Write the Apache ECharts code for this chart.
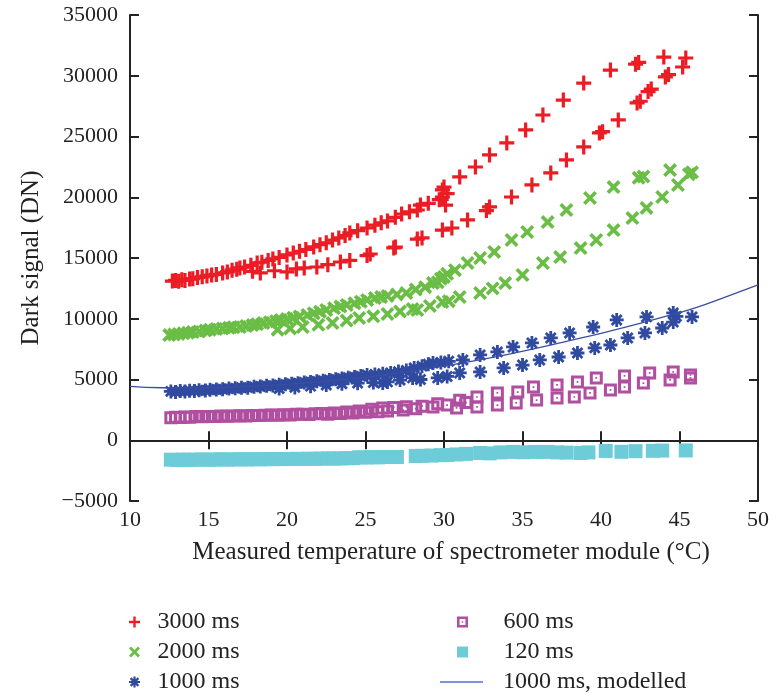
<!DOCTYPE html>
<html>
<head>
<meta charset="utf-8">
<script src="https://cdn.jsdelivr.net/npm/echarts@6/dist/echarts.min.js"></script>
<style>
  html, body { margin: 0; padding: 0; background: #fff; }
  #chart { width: 779px; height: 693px; }
</style>
</head>
<body>
<div id="chart"></div>
<script>
// axis ticks
const xTicks = [10, 15, 20, 25, 30, 35, 40, 45, 50];
const yTicks = [-5000, 0, 5000, 10000, 15000, 20000, 25000, 30000, 35000];

// [temperature °C, dark signal DN]
const s3000 = [
  [12.7,13100],[12.9,13150],[13.1,13080],[13.3,13200],[13.5,13150],[13.8,13270],[14.0,13300],[14.3,13400],
  [14.6,13450],[14.9,13520],[15.2,13600],[15.5,13650],[15.9,13770],[16.2,13850],[16.5,14000],[16.8,14080],
  [17.0,14180],[17.3,14250],[17.7,14400],[18.1,14590],[18.4,14650],[18.8,14800],[19.1,14920],[19.5,15050],
  [20.0,15250],[20.4,15410],[20.8,15550],[21.2,15700],[21.7,15910],[22.1,16100],[22.5,16250],[22.9,16480],
  [23.3,16650],[23.7,16850],[24.0,17060],[24.5,17250],[25.1,17470],[25.6,17700],[26.0,17900],[26.4,18050],
  [26.9,18350],[27.3,18620],[27.8,18800],[28.3,18950],[28.5,19360],[29.0,19500],[29.7,19800],[29.9,20020],
  [29.9,20600],[30.0,20840],[30.1,19360],[30.2,20300],[31.0,21670],[32.0,22490],[32.9,23480],[34.0,24470],
  [35.2,25540],[36.3,26770],[37.6,28000],[38.9,29400],[40.6,30470],[42.2,30950],[42.4,31100],[44.0,31540],
  // cooling branch
  [17.8,13900],[18.3,13770],[19.2,13950],[20.0,13850],[20.6,14100],[21.1,14180],[21.9,14260],[22.6,14450],
  [23.4,14670],[24.0,14800],[25.1,15200],[25.3,15330],[26.8,15830],[26.9,15900],[28.3,16560],[28.6,16650],
  [29.9,17300],[30.5,17470],[31.5,18130],[32.7,18900],[32.9,19200],[34.3,20020],[35.6,21010],[36.8,22000],
  [37.8,23070],[38.9,24140],[39.9,25290],[40.1,25400],[41.1,26360],[42.3,27760],[42.5,27900],[43.0,28700],
  [43.2,28900],[44.1,29900],[44.3,30100],[45.2,30720],[45.4,31460]
];

const s2000 = [
  [12.5,8660],[12.8,8700],[13.1,8750],[13.4,8800],[13.7,8850],[14.0,8910],[14.4,8950],[14.8,9030],
  [15.1,9100],[15.5,9160],[15.9,9200],[16.3,9250],[16.6,9300],[17.0,9320],[17.4,9400],[17.8,9480],
  [18.1,9550],[18.5,9650],[18.9,9720],[19.3,9800],[19.6,9900],[20.0,9980],[20.4,10080],[20.8,10180],
  [21.3,10310],[21.7,10450],[22.1,10580],[22.5,10720],[23.0,10870],[23.4,11000],[23.8,11130],[24.3,11280],
  [24.7,11400],[25.1,11540],[25.6,11700],[26.0,11780],[26.4,11870],[27.0,12000],[27.6,12120],[28.2,12400],
  [28.8,12600],[29.3,12940],[29.6,13000],[29.8,13300],[30.0,13440],[30.2,13700],[30.7,14000],[31.5,14590],
  [32.3,15000],[33.2,15500],[34.3,16480],[35.3,17140],[36.6,17960],[37.8,18950],[39.3,19940],[40.8,20840],
  [42.4,21600],[42.7,21700],[44.4,22240],[45.6,21900],[45.8,22050],
  // cooling branch
  [19.4,9100],[20.2,9200],[21.0,9320],[22.0,9500],[22.9,9650],[23.8,9850],[24.6,10060],[25.5,10200],
  [26.4,10390],[27.2,10600],[28.0,10800],[28.3,10720],[29.1,11050],[29.9,11380],[30.3,11450],[31.0,11790],
  [32.3,12120],[33.1,12500],[33.9,12940],[35.0,13600],[36.3,14590],[37.4,15080],[38.7,15820],[39.7,16480],
  [40.8,17300],[42.0,18290],[42.9,19120],[43.9,20020],[44.9,21010]
];

const s1000 = [
  [12.6,4020],[12.9,3980],[13.2,4050],[13.5,4020],[13.8,4080],[14.1,4060],[14.4,4120],[14.8,4100],
  [15.1,4160],[15.5,4180],[15.9,4200],[16.3,4250],[16.7,4270],[17.1,4320],[17.5,4330],[17.9,4400],
  [18.3,4420],[18.7,4480],[19.1,4500],[19.5,4560],[19.9,4600],[20.3,4650],[20.7,4700],[21.1,4760],
  [21.5,4800],[21.9,4850],[22.3,4900],[22.7,4960],[23.1,5020],[23.5,5080],[23.9,5150],[24.3,5200],
  [24.7,5280],[25.1,5370],[25.6,5420],[26.1,5480],[26.6,5540],[27.1,5650],[27.6,5750],[28.1,5950],
  [28.6,6100],[29.0,6250],[29.3,6360],[29.8,6400],[30.3,6500],[31.2,6610],[32.3,7020],[33.4,7270],
  [34.4,7680],[35.6,8010],[36.8,8420],[38.0,8830],[39.5,9320],[41.0,9900],[42.9,10150],[44.6,10480],
  [44.8,10200],[45.8,10150],
  // cooling branch
  [19.5,4250],[20.5,4350],[21.5,4450],[22.5,4550],[23.5,4650],[24.5,4700],[25.5,4750],[26.1,4710],
  [26.4,4800],[27.2,4950],[28.0,5130],[28.5,5000],[29.6,5130],[30.2,5250],[31.0,5540],[32.3,5620],
  [33.8,5950],[35.0,6190],[36.1,6610],[37.3,6850],[38.5,7180],[39.6,7600],[40.6,7840],[41.7,8420],
  [42.8,8830],[43.9,9240],[44.6,9730]
];

const s600 = [
  [12.6,1850],[12.9,1900],[13.2,1880],[13.5,1920],[13.8,1900],[14.2,1950],[14.6,1930],[15.0,1960],
  [15.4,1950],[15.8,1990],[16.2,1980],[16.6,2000],[17.0,2020],[17.4,2000],[17.8,2040],[18.2,2030],
  [18.6,2060],[19.0,2080],[19.4,2060],[19.8,2100],[20.2,2080],[20.6,2130],[21.0,2150],[21.4,2120],
  [21.8,2180],[22.2,2200],[22.6,2150],[23.0,2250],[23.4,2200],[23.8,2320],[24.2,2250],[24.6,2400],
  [25.0,2300],[25.4,2550],[25.8,2350],[26.1,2650],[26.4,2400],[26.8,2700],[27.4,2490],[27.6,2750],
  [28.2,2600],[28.6,2800],[29.3,2740],[29.6,3000],[30.2,2900],[30.8,2660],[31.0,3300],[31.4,3100],
  [32.1,3560],[32.1,2740],[33.4,3890],[33.4,2900],[34.6,3070],[34.7,3970],[35.7,4380],[35.9,3310],
  [37.2,4550],[37.2,3480],[38.3,3560],[38.5,4800],[39.3,3890],[39.7,5130],[40.6,4140],[41.5,5290],
  [41.5,4380],[42.7,4710],[43.1,5540],[44.4,4960],[44.6,5620],[45.7,5370],[45.7,5130]
];

const s120 = [
  [12.6,-1600],[13.0,-1620],[13.4,-1590],[13.8,-1610],[14.2,-1600],[14.6,-1580],[15.0,-1600],[15.4,-1590],
  [15.8,-1570],[16.2,-1590],[16.6,-1580],[17.0,-1560],[17.4,-1580],[17.8,-1560],[18.2,-1570],[18.6,-1550],
  [19.0,-1560],[19.4,-1540],[19.8,-1550],[20.2,-1540],[20.6,-1530],[21.0,-1540],[21.4,-1520],[21.8,-1530],
  [22.2,-1510],[22.6,-1500],[23.0,-1510],[23.4,-1490],[23.8,-1480],[24.2,-1470],[24.6,-1400],[25.0,-1420],
  [25.4,-1390],[25.8,-1410],[26.2,-1380],[27.0,-1380],[28.2,-1300],[28.6,-1280],[29.2,-1260],[29.8,-1230],
  [30.2,-1210],[30.8,-1170],[31.4,-1120],[32.3,-1050],[32.9,-1080],[33.6,-1000],[34.4,-960],[35.0,-990],
  [35.8,-960],[36.6,-960],[37.2,-1000],[37.8,-1020],[38.7,-1050],[39.2,-1000],[40.3,-880],[41.3,-950],
  [42.2,-900],[43.3,-870],[43.9,-850],[45.4,-840]
];

// 1000 ms model curve
const modelT  = [10, 12, 14, 16, 18, 20, 22, 24, 26, 28, 30, 32, 34, 36, 38, 40, 42, 44, 46, 48, 50];
const modelDN = [4430, 4320, 4300, 4360, 4450, 4600, 4800, 5050, 5350, 5700, 6100, 6550, 7050, 7600, 8200, 8800, 9450, 10150, 10900, 11820, 12780];

const seriesNames = ['3000 ms', '2000 ms', '1000 ms', '600 ms', '120 ms', '1000 ms, modelled'];

const FONT = '"Liberation Serif", "Times New Roman", serif';
const TXT = '#222';

// marker shapes built from bars, all wound the same way
function bars(angles, len, w) {
  let d = '';
  angles.forEach(a => {
    const r = a * Math.PI / 180, c = Math.cos(r), s = Math.sin(r);
    const ox = -s * w, oy = c * w;
    const p = [[len * c + ox, len * s + oy], [-len * c + ox, -len * s + oy],
               [-len * c - ox, -len * s - oy], [len * c - ox, len * s - oy]];
    d += 'M' + p.map(q => (q[0] + len).toFixed(2) + ',' + (q[1] + len).toFixed(2)).join('L') + 'Z';
  });
  return 'path://' + d;
}
const plusSym = bars([0, 90], 7, 1.5);
const crossSym = bars([45, 135], 7, 1.6);
const starSym = bars([0, 45, 90, 135], 7, 1.4);
const boxDotSym = 'path://M0,0H12V12H0Z M2.8,2.8V9.2H9.2V2.8Z M5.2,5.2H6.8V6.8H5.2Z';
const boxSym = 'path://M0,0H12V12H0Z';
const lineIcon = 'path://M0,0H43V1.4H0Z';

const chart = echarts.init(document.getElementById('chart'));

const axisLine = { show: true, lineStyle: { color: TXT, width: 2 } };
const tick = { show: true, inside: true, length: 9, lineStyle: { color: TXT, width: 2 } };

// legend: two columns of three rows, one legend per entry
const legendLeft = [129, 129, 129, 457, 457, 440];
const legendTextPad = [8, 8, 8, 26, 26, 15];
const legendRowsY = [622, 652, 682];
const legends = seriesNames.map((name, i) => {
  const isLine = name === '1000 ms, modelled';
  return {
    data: [isLine ? { name, icon: lineIcon } : { name }],
    orient: 'horizontal', padding: 0,
    left: legendLeft[i], top: legendRowsY[i % 3] - 12,
    itemWidth: isLine ? 43 : 20, itemHeight: 11,
    selectedMode: false,
    textStyle: { fontFamily: FONT, fontSize: 24, color: TXT, padding: [0, 0, 0, legendTextPad[i]] }
  };
});

const option = {
  animation: false,
  backgroundColor: '#fff',
  grid: { left: 130, right: 21, top: 15, bottom: 192 },
  xAxis: [
    {
      type: 'value', min: xTicks[0], max: xTicks[xTicks.length - 1], interval: 5,
      name: 'Measured temperature of spectrometer module (\u00B0C)',
      nameLocation: 'middle', nameGap: 39,
      nameTextStyle: { fontFamily: FONT, fontSize: 25, color: TXT, padding: [0, 0, 0, 14] },
      axisLine, axisTick: tick, splitLine: { show: false },
      axisLabel: { fontFamily: FONT, fontSize: 22, color: TXT, margin: 8 }
    },
    {
      type: 'value', position: 'top', min: xTicks[0], max: xTicks[xTicks.length - 1], interval: 5,
      axisLine, axisTick: tick, splitLine: { show: false }, axisLabel: { show: false }
    }
  ],
  yAxis: [
    {
      type: 'value', min: yTicks[0], max: yTicks[yTicks.length - 1], interval: 5000,
      name: 'Dark signal (DN)', nameLocation: 'middle', nameGap: 86,
      nameTextStyle: { fontFamily: FONT, fontSize: 25, color: TXT },
      axisLine, axisTick: tick, splitLine: { show: false },
      axisLabel: {
        fontFamily: FONT, fontSize: 22, color: TXT, margin: 12,
        formatter: v => v < 0 ? '\u2212' + Math.abs(v) : String(v)
      }
    },
    {
      type: 'value', position: 'right', min: yTicks[0], max: yTicks[yTicks.length - 1], interval: 5000,
      axisLine, axisTick: tick, splitLine: { show: false }, axisLabel: { show: false }
    }
  ],
  legend: legends,
  series: [
    { name: seriesNames[0], type: 'scatter', data: s3000, symbol: plusSym, symbolSize: 15, itemStyle: { color: '#ec1c24', opacity: 1 } },
    { name: seriesNames[1], type: 'scatter', data: s2000, symbol: crossSym, symbolSize: 14, itemStyle: { color: '#6abd45', opacity: 1 } },
    { name: seriesNames[2], type: 'scatter', data: s1000, symbol: starSym, symbolSize: 14, itemStyle: { color: '#2f4a9f', opacity: 1 } },
    { name: seriesNames[3], type: 'scatter', data: s600, symbol: boxDotSym, symbolSize: 13, itemStyle: { color: '#b04f9f', opacity: 1 } },
    { name: seriesNames[4], type: 'scatter', data: s120, symbol: boxSym, symbolSize: 14, itemStyle: { color: '#6ecbd8', opacity: 1 } },
    {
      name: seriesNames[5], type: 'line', smooth: true, symbol: 'none', showSymbol: false,
      data: modelT.map((t, i) => [t, modelDN[i]]),
      lineStyle: { color: '#3a4ea2', width: 1.3 }, z: 3
    }
  ]
};

chart.setOption(option);
</script>
</body>
</html>
